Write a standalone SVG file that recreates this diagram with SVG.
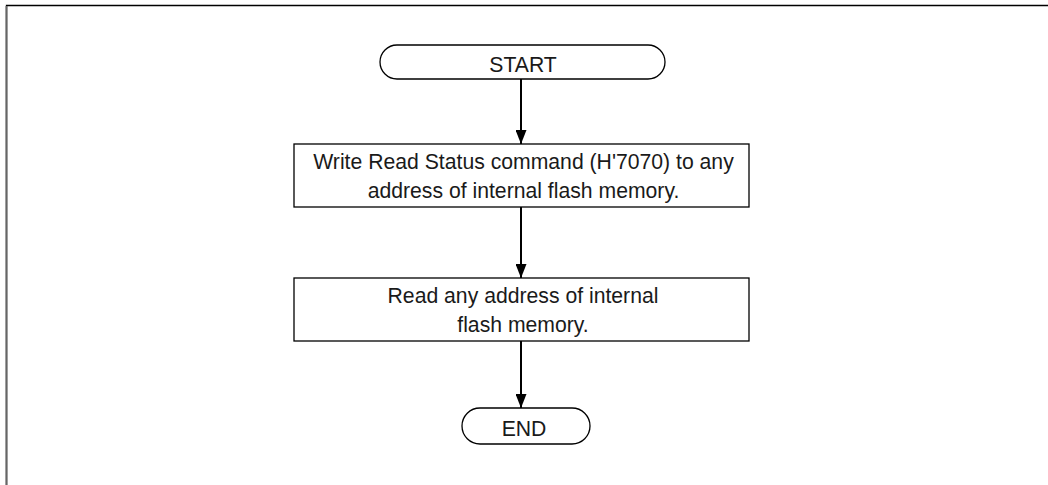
<svg xmlns="http://www.w3.org/2000/svg" width="1048" height="485" viewBox="0 0 1048 485">
<style>
.box{fill:#fff;stroke:#000;stroke-width:1.3}
.t{font-family:"Liberation Sans",Arial,sans-serif;font-size:21.2px;fill:#1a1a1a;text-anchor:middle}
.c{stroke:#000;stroke-width:2;fill:none}
</style>
<defs>
<marker id="ah" markerWidth="14" markerHeight="11" refX="14" refY="5.5" orient="auto" markerUnits="userSpaceOnUse">
<path d="M0,0 L14,5.5 L0,11 Z" fill="#000"/>
</marker>
</defs>
<rect x="0" y="0" width="1048" height="485" fill="#fff"/>
<path d="M6.5,485 V5.5 H1048" fill="none" stroke="#000" stroke-width="1.3"/>
<path d="M6.5,485 V6" fill="none" stroke="#666" stroke-width="2"/>
<g id="connectors">
<line class="c" x1="521" y1="79" x2="521" y2="144" marker-end="url(#ah)"/>
<line class="c" x1="521" y1="207" x2="521" y2="278" marker-end="url(#ah)"/>
<line class="c" x1="521" y1="341" x2="521" y2="408" marker-end="url(#ah)"/>
</g>
<g id="start">
<rect class="box" x="380" y="45" width="285" height="34" rx="17" ry="17"/>
<text class="t" x="523" y="71.5">START</text>
</g>
<g id="step1">
<rect class="box" x="294" y="144" width="455" height="63"/>
<text class="t" x="523.5" y="169">Write Read Status command (H'7070) to any</text>
<text class="t" x="523.5" y="198">address of internal flash memory.</text>
</g>
<g id="step2">
<rect class="box" x="294" y="278" width="455" height="63"/>
<text class="t" x="523" y="303">Read any address of internal</text>
<text class="t" x="523" y="332">flash memory.</text>
</g>
<g id="end">
<rect class="box" x="462" y="408" width="128" height="36" rx="18" ry="18"/>
<text class="t" x="524" y="435.5">END</text>
</g>
</svg>
